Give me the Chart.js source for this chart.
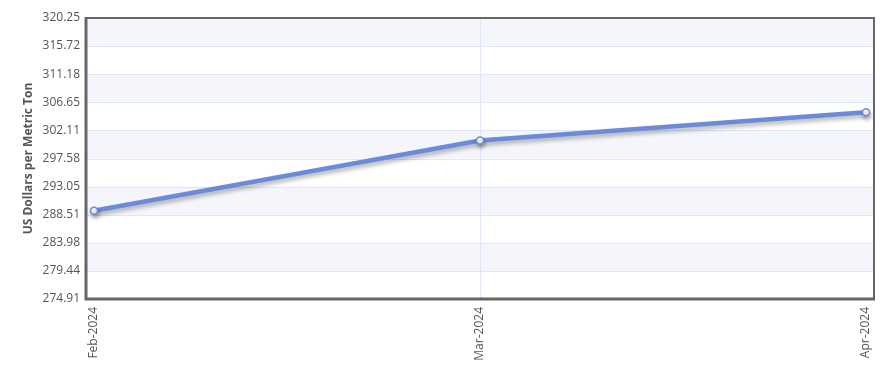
<!DOCTYPE html>
<html>
<head>
<meta charset="utf-8">
<script src="https://cdn.jsdelivr.net/npm/chart.js@4.4.1/dist/chart.umd.min.js"></script>
<style>
  html, body { margin: 0; padding: 0; background: #fff; }
  #wrap { width: 894px; height: 381px; }
</style>
</head>
<body>
<div id="wrap"><canvas id="myChart" width="894" height="381"></canvas></div>
<script>
// months on the x axis
var months = ["Feb-2024", "Mar-2024", "Apr-2024"];
// price in US dollars per metric ton
var prices = [289.16, 300.49, 305.03];
// y axis tick values as printed
var yTicks = [274.91, 279.44, 283.98, 288.51, 293.05, 297.58, 302.11, 306.65, 311.18, 315.72, 320.25];

var lineColor = "#6b8bd9";
var gridColor = "#dde7f9";
var bandColor = "#f4f6fc";

// alternating shaded bands + dark frame
const bandsPlugin = {
  id: "bands",
  beforeDatasetsDraw(chart) {
    const { ctx, chartArea, scales } = chart;
    const y = scales.y;
    ctx.save();
    ctx.fillStyle = bandColor;
    for (let i = yTicks.length - 1; i > 0; i -= 2) {
      const top = y.getPixelForValue(yTicks[i]);
      const bot = y.getPixelForValue(yTicks[i - 1]);
      ctx.fillRect(chartArea.left, top, chartArea.right - chartArea.left, bot - top);
    }
    // grid lines over the bands
    ctx.strokeStyle = gridColor;
    ctx.lineWidth = 1;
    for (let i = 1; i < yTicks.length - 1; i++) {
      const py = Math.round(y.getPixelForValue(yTicks[i])) + 0.5;
      ctx.beginPath();
      ctx.moveTo(chartArea.left, py);
      ctx.lineTo(chartArea.right, py);
      ctx.stroke();
    }
    const mx = Math.round(scales.x.getPixelForValue(1)) + 0.5;
    ctx.beginPath();
    ctx.moveTo(mx, chartArea.top);
    ctx.lineTo(mx, chartArea.bottom);
    ctx.stroke();
    ctx.restore();
  },
  beforeDatasetDraw(chart) {
    const ctx = chart.ctx;
    ctx.save();
    ctx.shadowColor = "rgba(0,0,0,0.3)";
    ctx.shadowBlur = 4;
    ctx.shadowOffsetX = 1;
    ctx.shadowOffsetY = 3;
  },
  afterDatasetDraw(chart) {
    chart.ctx.restore();
  },
  afterDraw(chart) {
    const { ctx, chartArea } = chart;
    ctx.save();
    ctx.strokeStyle = "#666";
    ctx.lineWidth = 2;
    ctx.strokeRect(chartArea.left, chartArea.top, chartArea.right - chartArea.left, chartArea.bottom - chartArea.top);
    ctx.lineWidth = 3;
    ctx.beginPath();
    ctx.moveTo(chartArea.left, chartArea.top - 1);
    ctx.lineTo(chartArea.left, chartArea.bottom);
    ctx.lineTo(chartArea.right + 1, chartArea.bottom);
    ctx.stroke();
    ctx.restore();
  }
};

const ctx = document.getElementById("myChart");
new Chart(ctx, {
  type: "line",
  data: {
    datasets: [{
      label: "Price",
      data: prices.map((p, i) => ({ x: i, y: p })),
      borderColor: lineColor,
      borderWidth: 4.5,
      pointRadius: 3.5,
      pointBorderWidth: 1.5,
      pointBackgroundColor: "#fff",
      pointBorderColor: lineColor,
      tension: 0,
      fill: false
    }]
  },
  options: {
    responsive: false,
    animation: false,
    layout: { padding: { top: 18, right: 20, left: 17, bottom: 0 } },
    plugins: { legend: { display: false }, tooltip: { enabled: false } },
    scales: {
      x: {
        type: "linear",
        min: -0.0207,
        max: 2.0207,
        afterBuildTicks(scale) {
          scale.ticks = months.map((m, i) => ({ value: i }));
        },
        afterFit(scale) { scale.height = 82; },
        grid: { display: false, drawTicks: false },
        border: { display: false },
        ticks: {
          minRotation: 90,
          maxRotation: 90,
          padding: 8,
          color: "#555",
          font: { family: "Open Sans", size: 12 },
          callback: (v) => months[v]
        }
      },
      y: {
        min: yTicks[0],
        max: yTicks[yTicks.length - 1],
        afterBuildTicks(scale) {
          scale.ticks = yTicks.map(v => ({ value: v }));
        },
        afterFit(scale) { scale.width = 69; },
        grid: { display: false, drawTicks: false },
        border: { display: false },
        ticks: {
          padding: 6,
          color: "#555",
          font: { family: "Open Sans", size: 12 },
          callback: (v) => v.toFixed(2)
        },
        title: {
          display: true,
          text: "US Dollars per Metric Ton",
          color: "#555",
          padding: { top: 4, bottom: 0 },
          font: { family: "Open Sans", size: 12, weight: "bold" }
        }
      }
    }
  },
  plugins: [bandsPlugin]
});
</script>
</body>
</html>
